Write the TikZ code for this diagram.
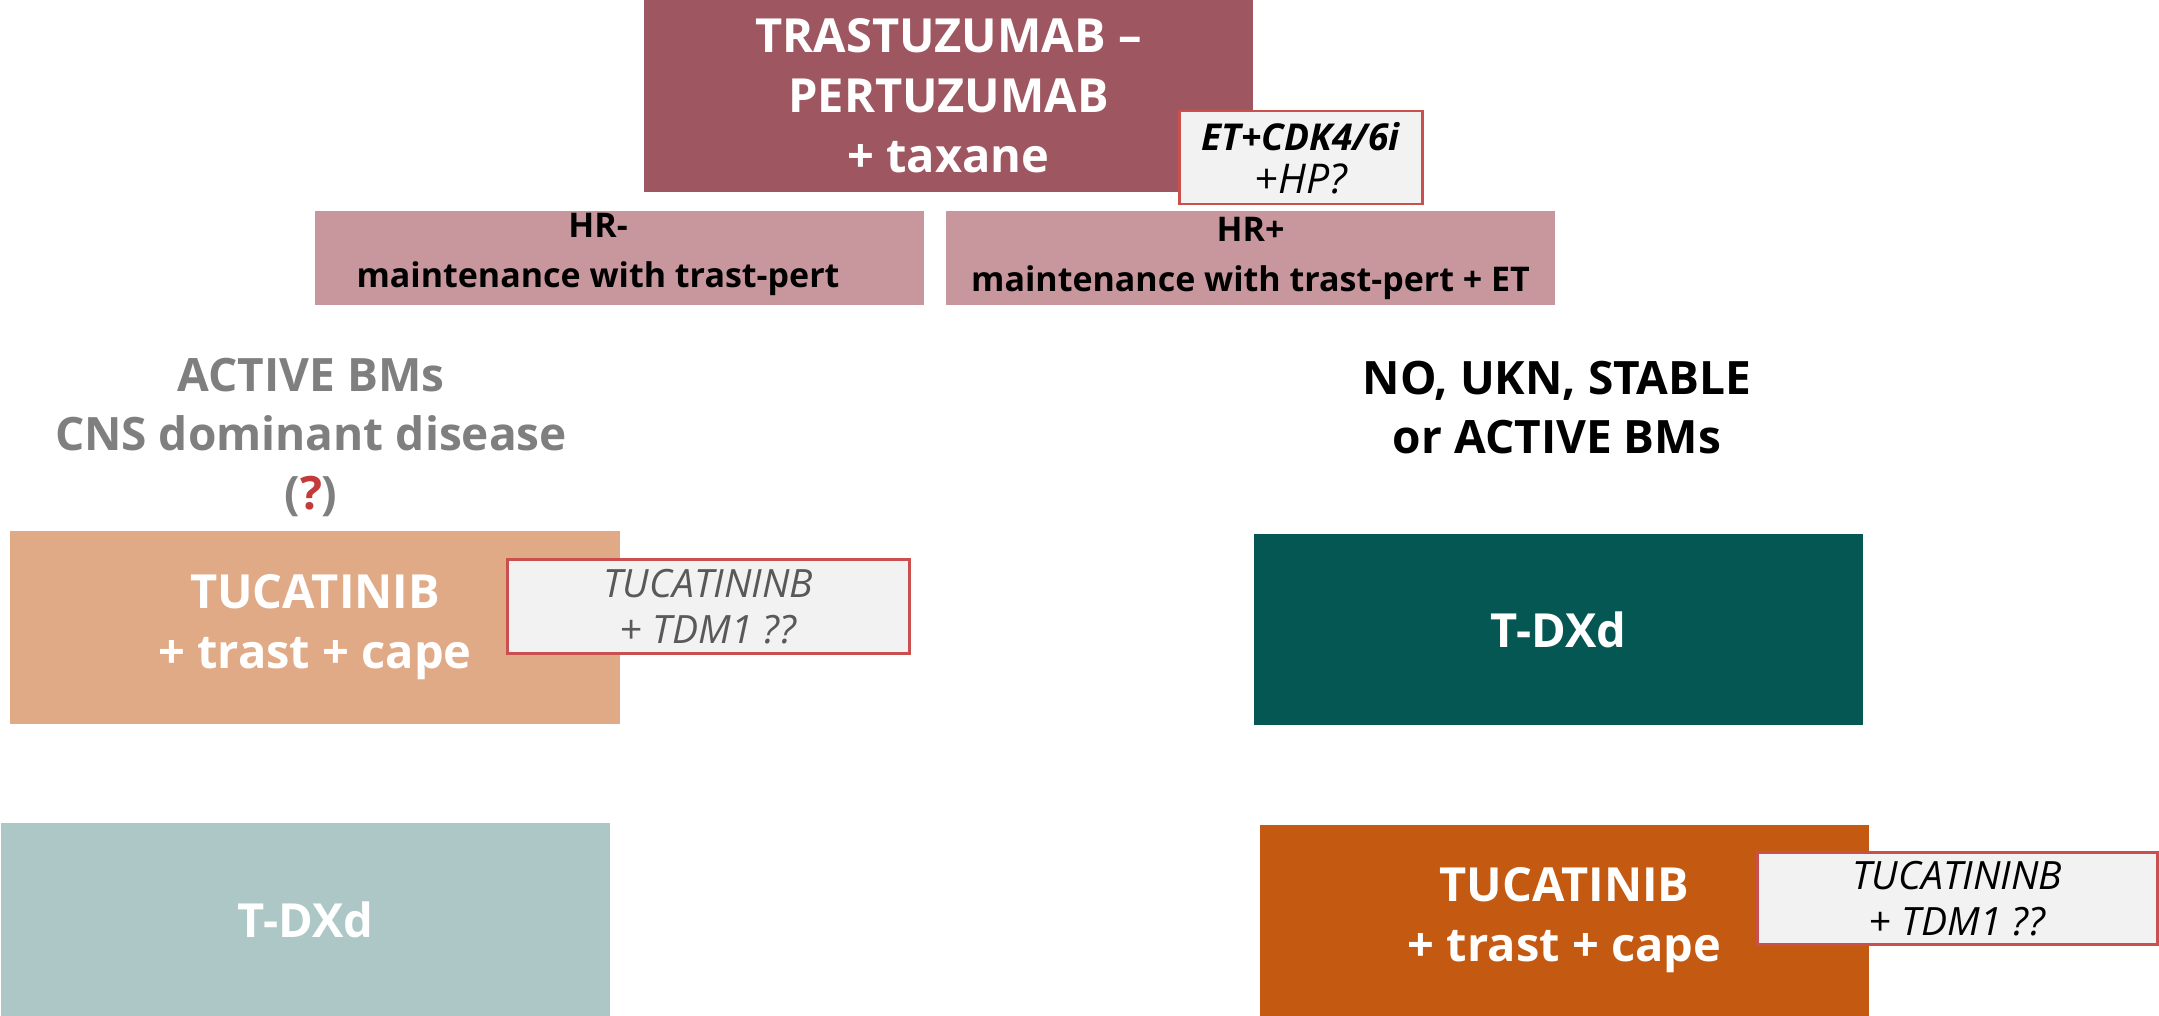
\documentclass[tikz,border=0pt]{standalone}
\usepackage{fontspec}
\setmainfont{Open Sans}
\definecolor{topc}{HTML}{9E5761}
\definecolor{hrc}{HTML}{C8979E}
\definecolor{salmon}{HTML}{E1AA87}
\definecolor{tealdk}{HTML}{055753}
\definecolor{teallt}{HTML}{ADC7C7}
\definecolor{orng}{HTML}{C45911}
\definecolor{notegray}{HTML}{F2F2F2}
\definecolor{notered}{HTML}{C9504E}
\definecolor{graytxt}{HTML}{7F7F7F}
\definecolor{notetxt}{HTML}{595959}
\definecolor{qred}{HTML}{C43A3A}
\tikzset{
  fillbox/.style={rectangle, inner sep=0pt, outer sep=0pt, anchor=north west, align=center,
    text=white, font=\bfseries\fontsize{47}{60}\selectfont},
  hrbox/.style={fillbox, fill=hrc, text=black, minimum width=609pt, minimum height=94pt,
    font=\bfseries\fontsize{34}{50}\selectfont},
  hrtext/.style={inner sep=0pt, align=center, text=black, font=\bfseries\fontsize{34}{50}\selectfont},
  notebox/.style={rectangle, inner sep=0pt, anchor=north west, align=center, fill=notegray,
    draw=notered, line width=2.5pt, font=\itshape\fontsize{39}{46}\selectfont},
  lbl/.style={inner sep=0pt, align=center, font=\bfseries\fontsize{46}{59}\selectfont}
}
\begin{document}
\begin{tikzpicture}[x=1pt,y=-1pt]
\path[use as bounding box, fill=white] (0,0) rectangle (2159,1016);

% top box
\node[fillbox, fill=topc, minimum width=609pt, minimum height=192pt] (top) at (644,0)
  {TRASTUZUMAB –\\PERTUZUMAB\\+ taxane};
\node[notebox, minimum width=243pt, minimum height=93pt, font=\itshape\fontsize{37}{43}\selectfont] (etbox) at (1178,110)
  {\bfseries ET+CDK4/6i\\\fontsize{41}{43}\selectfont +HP?};

% HR boxes
\node[hrbox] (hrneg) at (315,211) {};
\node[hrtext] (hrnegtxt) at (598,254) {HR-\\maintenance with trast-pert};
\node[hrbox] (hrpos) at (946,211) {HR+\\maintenance with trast-pert + ET};

% labels
\node[lbl, text=graytxt] (active) at (311,437) {ACTIVE BMs\\CNS dominant disease\\(\textcolor{qred}{?})};
\node[lbl, text=black] (noukn) at (1557,408) {NO, UKN, STABLE\\or ACTIVE BMs};

% left column
\node[fillbox, fill=salmon, minimum width=610pt, minimum height=193pt] (tucl) at (10,531)
  {TUCATINIB\\+ trast + cape};
\node[notebox, text=notetxt, minimum width=402pt, minimum height=94pt] (notel) at (506,558)
  {TUCATININB\\{\upshape +} TDM1 ??};
\node[fillbox, fill=teallt, minimum width=609pt, minimum height=193pt] (tdxdl) at (1,823)
  {T-DXd};

% right column
\node[fillbox, fill=tealdk, minimum width=609pt, minimum height=191pt] (tdxdr) at (1254,534)
  {T-DXd};
\node[fillbox, fill=orng, minimum width=609pt, minimum height=191pt] (tucr) at (1260,825)
  {TUCATINIB\\+ trast + cape};
\node[notebox, text=black, minimum width=400pt, minimum height=92pt] (noter) at (1756,851)
  {TUCATININB\\{\upshape +} TDM1 ??};
\end{tikzpicture}
\end{document}
